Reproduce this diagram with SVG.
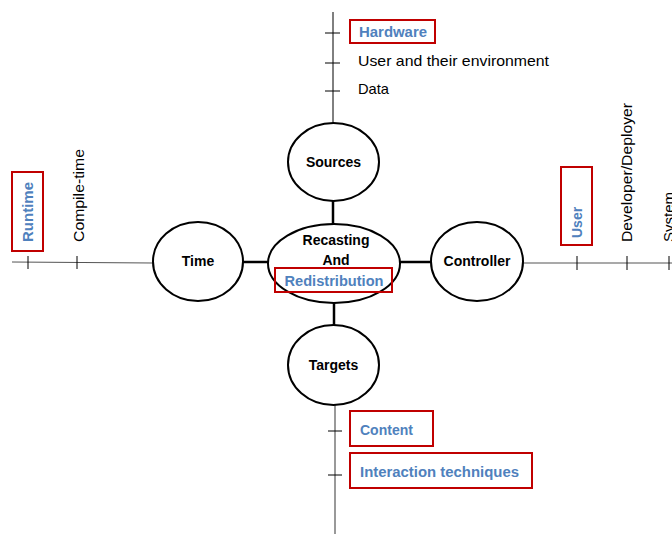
<svg xmlns="http://www.w3.org/2000/svg" width="672" height="534" viewBox="0 0 672 534">
<style>
.ax{stroke:#000;stroke-width:1;fill:none}
.axg{stroke:#555;stroke-width:1.2;fill:none}
.cn{stroke:#000;stroke-width:2.5;fill:none}
.nd{fill:#fff;stroke:#000;stroke-width:2}
.bx{fill:none;stroke:#C00000;stroke-width:2}
.t{font-family:"Liberation Sans",Arial,sans-serif;font-size:15px;fill:#000}
.b{font-family:"Liberation Sans",Arial,sans-serif;font-size:14px;font-weight:bold;fill:#000}
.bl{font-family:"Liberation Sans",Arial,sans-serif;font-size:14px;font-weight:bold;fill:#4F81BD}
</style>
<rect width="672" height="534" fill="#fff"/>
<g id="axes">
<line class="ax" x1="333" y1="12" x2="333" y2="123"/>
<line class="ax" x1="325" y1="33" x2="340" y2="33"/>
<line class="ax" x1="325" y1="63" x2="340" y2="63"/>
<line class="ax" x1="325" y1="91" x2="340" y2="91"/>
<line class="axg" x1="12" y1="262" x2="153" y2="263"/>
<line class="ax" x1="28" y1="256" x2="28" y2="269"/>
<line class="ax" x1="77" y1="256" x2="77" y2="269"/>
<line class="axg" x1="523" y1="263" x2="672" y2="263"/>
<line class="ax" x1="577" y1="256" x2="577" y2="270"/>
<line class="ax" x1="627" y1="256" x2="627" y2="270"/>
<line class="ax" x1="669" y1="256" x2="669" y2="270"/>
<line class="axg" x1="335" y1="405" x2="335" y2="534"/>
<line class="ax" x1="328" y1="431" x2="342" y2="431"/>
<line class="ax" x1="328" y1="475" x2="342" y2="475"/>
</g>
<g id="connectors">
<line class="cn" x1="333" y1="201" x2="333" y2="224"/>
<line class="cn" x1="334" y1="303" x2="334" y2="325"/>
<line class="cn" x1="243" y1="262" x2="268" y2="262"/>
<line class="cn" x1="400" y1="262" x2="431" y2="262"/>
</g>
<g id="sources"><ellipse class="nd" cx="333.5" cy="162" rx="45.5" ry="39"/><text class="b" x="333.5" y="167" text-anchor="middle">Sources</text></g>
<g id="center"><ellipse class="nd" cx="334" cy="263.5" rx="66" ry="39.5"/>
<text class="b" x="336" y="245" text-anchor="middle">Recasting</text>
<text class="b" x="336" y="265" text-anchor="middle">And</text>
<text class="bl" x="284.5" y="286" textLength="99" lengthAdjust="spacingAndGlyphs">Redistribution</text>
<rect class="bx" x="275" y="268" width="117" height="24"/></g>
<g id="time"><ellipse class="nd" cx="198" cy="261.5" rx="45" ry="39.5"/><text class="b" x="198" y="266" text-anchor="middle">Time</text></g>
<g id="controller"><ellipse class="nd" cx="477" cy="261.5" rx="46" ry="39.5"/><text class="b" x="477" y="266" text-anchor="middle">Controller</text></g>
<g id="targets"><ellipse class="nd" cx="333.5" cy="365" rx="45.5" ry="40"/><text class="b" x="333.5" y="370" text-anchor="middle">Targets</text></g>
<g id="sources-labels">
<rect class="bx" x="350" y="20" width="85" height="23"/>
<text class="bl" x="359" y="37" textLength="68" lengthAdjust="spacingAndGlyphs">Hardware</text>
<text class="t" x="358" y="66" textLength="191" lengthAdjust="spacingAndGlyphs">User and their environment</text>
<text class="t" x="358" y="94" textLength="31" lengthAdjust="spacingAndGlyphs">Data</text>
</g>
<g id="time-labels">
<rect class="bx" x="12" y="172" width="31" height="79"/>
<text class="bl" transform="translate(33,242) rotate(-90)" textLength="60" lengthAdjust="spacingAndGlyphs">Runtime</text>
<text class="t" transform="translate(84,242) rotate(-90)" textLength="93" lengthAdjust="spacingAndGlyphs">Compile-time</text>
</g>
<g id="controller-labels">
<rect class="bx" x="561" y="167" width="31" height="78"/>
<text class="bl" transform="translate(582,238) rotate(-90)">User</text>
<text class="t" transform="translate(632,242) rotate(-90)" textLength="139" lengthAdjust="spacingAndGlyphs">Developer/Deployer</text>
<text class="t" transform="translate(674,242) rotate(-90)">System</text>
</g>
<g id="targets-labels">
<rect class="bx" x="350" y="411" width="83" height="35"/>
<text class="bl" x="360" y="435">Content</text>
<rect class="bx" x="350" y="453" width="182" height="35"/>
<text class="bl" x="360" y="477" textLength="159" lengthAdjust="spacingAndGlyphs">Interaction techniques</text>
</g>
</svg>
